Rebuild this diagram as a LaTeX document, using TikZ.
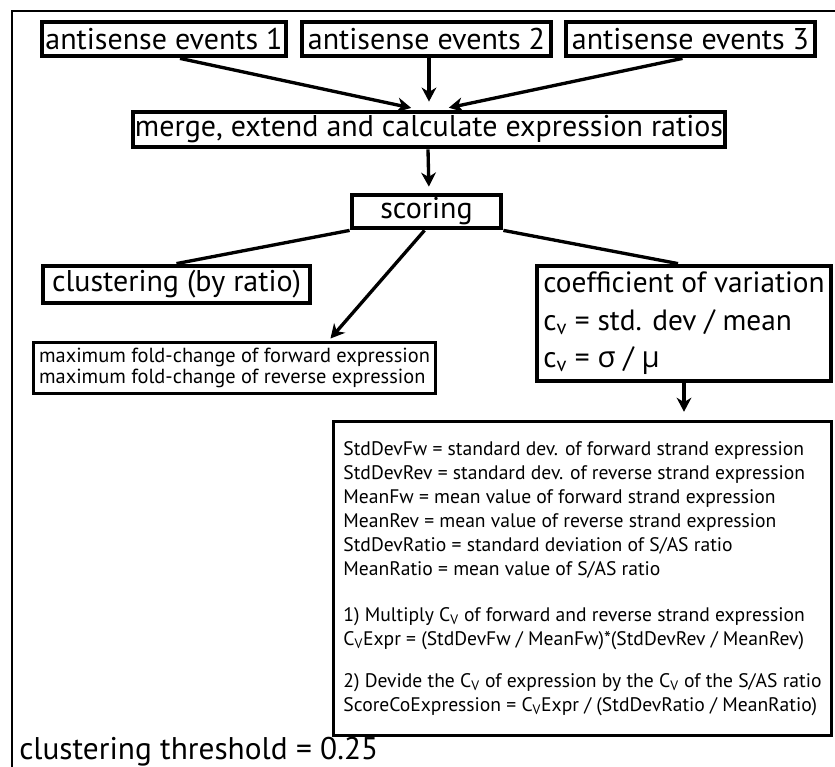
\documentclass[tikz,border=0pt]{standalone}
\usepackage{fontspec}
\setmainfont{PT Sans}
\newfontfamily\grk{Open Sans}
\usetikzlibrary{arrows.meta}
\newcommand\bigtxt{\fontsize{22.5pt}{28pt}\selectfont}
\newcommand\sub[1]{\textsubscript{#1}}
\begin{document}
% one unit = one pixel = 0.75pt
\begin{tikzpicture}[x=0.75pt,y=-0.75pt,
  box/.style={draw, line width=3.6pt, inner sep=0pt, font=\bigtxt},
  thinbox/.style={draw, line width=2.6pt, inner sep=0pt},
  arr/.style={line width=2.5pt, -{Stealth[length=10.5pt,width=11pt,inset=3.3pt]}},
  link/.style={line width=2.5pt}]
\useasboundingbox (0,0) rectangle (835,767);
% frame
\draw[line width=1.5pt] (12,767) -- (12,11) -- (835,11);

% input events
\node[box, minimum width=183pt, minimum height=25.5pt] (ae1) at (164,39) {antisense events 1};
\node[box, minimum width=186.75pt, minimum height=25.5pt] (ae2) at (426.5,39) {antisense events 2};
\node[box, minimum width=186.75pt, minimum height=25.5pt] (ae3) at (690.5,39) {antisense events 3};

\node[box, minimum width=444pt, minimum height=26.25pt] (merge) at (429,129.5) {merge, extend and calculate expression ratios};
\node[box, minimum width=111.75pt, minimum height=24.75pt] (score) at (426.5,211.5) {scoring};
\node[box, minimum width=200.25pt, minimum height=27.75pt] (clust) at (176.5,284.5) {clustering (by ratio)};

\node[box, minimum width=220.5pt, minimum height=86.25pt, align=left,
      font=\fontsize{22pt}{28.1pt}\selectfont] (cv) at (684,323.5)
  {coefficient of variation\\
   c\sub{v} = std. dev / mean\\
   c\sub{v} = {\grk σ} / {\grk μ}};

\node[thinbox, minimum width=301.5pt, minimum height=38.25pt, align=left,
      font=\fontsize{15.3pt}{15.5pt}\selectfont] (fold) at (234.5,368)
  {maximum fold-change of forward expression\\
   maximum fold-change of reverse expression};

\node[thinbox, minimum width=373.5pt, minimum height=235.5pt, align=left,
      font=\fontsize{14.7pt}{18pt}\selectfont] (calc) at (582.5,578.5)
  {StdDevFw = standard dev. of forward strand expression\\
   StdDevRev = standard dev. of reverse strand expression\\
   MeanFw = mean value of forward strand expression\\
   MeanRev = mean value of reverse strand expression\\
   StdDevRatio = standard deviation of S/AS ratio\\
   MeanRatio = mean value of S/AS ratio\\[16.5pt]
   1) Multiply C\sub{V} of forward and reverse strand expression\\
   C\sub{V}Expr = (StdDevFw / MeanFw)*(StdDevRev / MeanRev)\\[13.5pt]
   2) Devide the C\sub{V} of expression by the C\sub{V} of the S/AS ratio\\
   ScoreCoExpression = C\sub{V}Expr / (StdDevRatio / MeanRatio)};

\node[anchor=base west, inner sep=0pt, font=\fontsize{23.5pt}{28pt}\selectfont] (thr) at (19,759) {clustering threshold = 0.25};

% connectors
\draw[arr, shorten >=6pt] ([xshift=12pt]ae1.south) -- ([xshift=-7.5pt]merge.north);
\draw[arr, shorten >=6pt] ([xshift=1.875pt]ae2.south) -- (merge.north);
\draw[arr, shorten >=6.75pt] ([xshift=-6pt]ae3.south) -- ([xshift=8.25pt]merge.north);
\draw[arr, shorten >=4.5pt] ([xshift=-0.75pt]merge.south) -- ([xshift=1.875pt]score.north);
\draw[link] (score.south west) -- (clust.north);
\draw[arr, shorten >=2.25pt] ([xshift=-1.5pt]score.south) -- ([xshift=70.5pt]fold.north);
\draw[link] (score.south east) -- ([xshift=-4.5pt]cv.north);
\draw[arr, shorten >=6pt] (cv.south) -- (cv.south |- calc.north);
\end{tikzpicture}
\end{document}
